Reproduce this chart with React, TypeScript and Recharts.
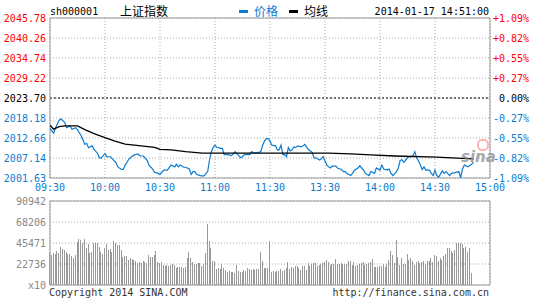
import React from "react";
import {
  Bar,
  BarChart,
  CartesianGrid,
  Line,
  LineChart,
  ReferenceLine,
  XAxis,
  YAxis,
} from "recharts";

const MONO = "'DejaVu Sans Mono', monospace";
const CJK = "'Noto Sans CJK SC', sans-serif";
const RED = "#ff0000";
const BLUE = "#0a7bd0";
const GRID = "#aaa";
const FRAME = "#999";

const PREV_CLOSE = 2023.7;
const priceTicks = [2001.63, 2007.14, 2012.66, 2018.18, 2023.7, 2029.22, 2034.74, 2040.26, 2045.78];
const timeTicks = [0, 30, 60, 90, 120, 150, 180, 210, 240];
const timeLabels = ["09:30", "10:00", "10:30", "11:00", "11:30", "13:30", "14:00", "14:30", "15:00"];
const volumeTicks = [0, 22736, 45471, 68206, 90942];

// minute index from 09:30 (afternoon continues at 120 = 13:00)
const priceMinutes = [
  0, 2, 3, 5, 6, 8, 9, 11, 12, 14, 15, 17, 18, 19, 20, 21, 23, 24, 26, 27, 28, 30, 31, 33, 34, 36, 37, 39, 40, 41,
  43, 44, 46, 48, 49, 51, 53, 54, 56, 57, 59, 60, 62, 64, 65, 66, 68, 69, 70, 71, 73, 74, 76, 77, 78, 79, 80, 82, 83, 84,
  86, 87, 88, 89, 90, 91, 93, 94, 95, 97, 99, 100, 101, 103, 104, 105, 106, 109, 110, 111, 113, 115, 116, 117, 118, 119, 120, 121, 123, 124,
  125, 126, 127, 128, 129, 130, 131, 132, 133, 134, 135, 137, 138, 139, 141, 142, 143, 144, 145, 147, 148, 149, 150, 151, 152, 153, 154, 156, 157, 159,
  160, 161, 162, 164, 165, 166, 168, 169, 171, 172, 174, 175, 177, 178, 180, 181, 182, 184, 185, 186, 187, 189, 190, 191, 192, 193, 194, 195, 196, 197,
  198, 199, 200, 201, 202, 203, 204, 205, 207, 208, 209, 210, 211, 212, 214, 215, 216, 218, 219, 221, 223, 224, 225, 226, 228, 230, 231,
];
const priceValues = [
  2015.3, 2014.0, 2015.4, 2017.6, 2017.9, 2017.0, 2015.5, 2016.0, 2015.1, 2015.5, 2014.9, 2013.3, 2012.1, 2010.9, 2011.2, 2010.0, 2010.5, 2009.5, 2008.4, 2007.2, 2007.2, 2008.4, 2007.5, 2007.5, 2006.9, 2005.9, 2004.7, 2004.0, 2004.0, 2005.2,
  2006.8, 2007.3, 2008.0, 2008.3, 2007.7, 2007.7, 2006.5, 2005.2, 2004.1, 2003.2, 2002.9, 2002.6, 2003.8, 2003.8, 2004.5, 2005.2, 2004.7, 2005.4, 2004.7, 2005.2, 2004.6, 2004.6, 2004.1, 2002.6, 2003.4, 2003.4, 2002.6, 2002.3, 2002.2, 2002.2,
  2003.4, 2006.6, 2008.9, 2010.1, 2010.7, 2010.1, 2009.8, 2009.8, 2008.1, 2008.1, 2007.8, 2008.3, 2008.9, 2007.8, 2007.2, 2007.5, 2008.1, 2008.1, 2008.9, 2008.6, 2008.6, 2008.9, 2010.7, 2011.8, 2012.5, 2012.5, 2011.8, 2010.7, 2010.5, 2009.4,
  2009.4, 2010.7, 2008.1, 2008.1, 2007.5, 2010.0, 2009.1, 2009.4, 2010.2, 2010.0, 2010.5, 2010.2, 2010.5, 2010.9, 2009.5, 2009.1, 2008.7, 2007.2, 2007.2, 2006.6, 2006.9, 2007.5, 2006.3, 2005.2, 2004.7, 2004.4, 2004.9, 2004.9, 2004.3, 2004.0,
  2003.4, 2003.4, 2002.9, 2002.3, 2002.9, 2003.8, 2004.4, 2005.0, 2003.8, 2002.9, 2002.3, 2003.4, 2002.9, 2004.4, 2003.8, 2005.2, 2004.1, 2003.8, 2004.1, 2002.9, 2002.3, 2003.4, 2004.4, 2006.5, 2006.7, 2005.9, 2006.6, 2007.2, 2007.5, 2007.5,
  2007.8, 2008.9, 2007.2, 2006.3, 2005.2, 2004.0, 2004.7, 2003.8, 2003.8, 2002.9, 2002.3, 2003.8, 2002.3, 2001.9, 2003.6, 2002.9, 2003.4, 2002.3, 2002.9, 2003.1, 2003.4, 2001.7, 2004.1, 2005.2, 2004.7, 2005.4, 2006.0,
];

const avgMinutes = [0, 2, 5, 8, 15, 19, 24, 30, 35, 41, 46, 57, 60, 66, 74, 83, 152, 164, 175, 188, 211, 222, 231];
const avgValues = [
  2016.2, 2015.1, 2015.8, 2016.0, 2016.0, 2015.0, 2013.9, 2012.8, 2011.9, 2011.0, 2010.7, 2010.1, 2009.5, 2009.4, 2008.9, 2008.5,
  2008.5, 2008.3, 2008.0, 2007.7, 2007.4, 2007.1, 2006.9,
];

// one bar per minute (axis unit x10)
const volumes = [
  35000, 32500, 34300, 33600, 37200, 35000, 40800, 39000, 37900, 36100,
  33200, 33200, 31400, 29600, 32500, 46200, 49800, 48700, 45800, 49800,
  39700, 44000, 34300, 36100, 45100, 45100, 45100, 41500, 36100, 33200,
  39700, 44000, 37900, 38600, 36100, 47600, 45800, 43300, 43300, 37900,
  30700, 31800, 31400, 27100, 29600, 27800, 27100, 26300, 24200, 25300,
  24200, 26300, 25300, 23500, 32500, 30700, 30700, 32500, 36800, 25300,
  24200, 25300, 21700, 20600, 21700, 20600, 21700, 22400, 21700, 18800,
  19800, 19100, 19800, 18800, 19800, 28900, 35400, 28900,
  25300, 22400, 22400, 23500, 23500, 20900, 22400, 34300, 65700, 47600,
  40400, 26000, 26000, 17300, 18000, 17300, 22400, 18800, 16200, 14400,
  15200, 14400, 13700, 12600, 21700, 15200, 13700, 13700, 16200, 15200,
  18000, 17300, 16200, 17000, 16200, 17000, 17300, 35400, 26000, 18800, 18800,
  18800, 47600,
  14400, 15200, 14400, 15200, 15200, 17300, 15200, 16200, 18800, 25300,
  17300, 19800, 18000, 20900, 20600, 18800, 16200, 20900, 20600, 16200,
  23500, 20900, 22400, 23500, 23500, 20900, 21700, 22400, 23500, 25300,
  27100, 25300, 21700, 22700, 22400, 28100,
  22400, 22400, 24200, 22400, 22400, 22700, 26000, 26000, 21700, 25300,
  20600, 21700, 22400, 23500, 25300, 21700, 22700, 23500, 25300, 28100,
  19800, 19800, 19800, 20600, 20900, 22400, 19800, 22700, 27100, 36800,
  32500, 23500, 48700, 30700, 21700, 28900, 22400, 22400, 33200, 27100,
  28900, 26000, 21700, 25300, 26000, 24200, 25300, 26000, 22400, 26000,
  26000, 28900, 25300, 32500, 31400, 26000, 28900, 27100, 31400, 33200,
  40400, 39700, 36800, 34300, 37900, 45100, 45100, 45100, 44000, 39700,
  41500, 36100, 40400, 13400,
];

const priceData = priceMinutes.map((m, i) => ({ m, v: priceValues[i] }));
const avgData = avgMinutes.map((m, i) => ({ m, v: avgValues[i] }));
const volumeData = volumes.map((vol, m) => ({ m, vol }));

const colorFor = (v: number) =>
  v > PREV_CLOSE + 0.001 ? RED : v < PREV_CLOSE - 0.001 ? BLUE : "#000";

function PriceTick(props: any) {
  const { x, y, payload } = props;
  return (
    <text x={x} y={y} dy="0.355em" textAnchor="end" fill={colorFor(payload.value)} fontSize={10} fontFamily={MONO}>
      {payload.value.toFixed(2)}
    </text>
  );
}

function PctTick(props: any) {
  const { x, y, payload } = props;
  const p = ((payload.value - PREV_CLOSE) / PREV_CLOSE) * 100;
  const label = (p > 0.001 ? "+" : "") + (Math.abs(p) < 0.001 ? "0.00" : p.toFixed(2)) + "%";
  return (
    <text x={x + 37} y={y} dy="0.355em" textAnchor="end" fill={colorFor(payload.value)} fontSize={10} fontFamily={MONO}>
      {label}
    </text>
  );
}

// 1px crisp volume bar
function VolBar(props: any) {
  const { x, y, width, height, fill } = props;
  if (!height || height <= 0) return null;
  return (
    <rect
      x={Math.round(x + width / 2 - 0.5)}
      y={Math.round(y)}
      width={1}
      height={Math.round(y + height) - Math.round(y)}
      fill={fill}
      shapeRendering="crispEdges"
    />
  );
}

function Frame({ top, bottom }: { top: number; bottom: number }) {
  return (
    <>
      <ReferenceLine x={0} stroke={FRAME} />
      <ReferenceLine x={240} stroke={FRAME} />
      <ReferenceLine y={top} stroke={FRAME} />
      <ReferenceLine y={bottom} stroke={FRAME} />
    </>
  );
}

const abs = (left: number, top: number, extra: React.CSSProperties = {}): React.CSSProperties => ({
  position: "absolute",
  left,
  top,
  lineHeight: "14px",
  whiteSpace: "nowrap",
  ...extra,
});

export default function App() {
  return (
    <div style={{ position: "absolute", left: 0, top: 0, width: 545, height: 300, background: "#fff" }}>
      <span style={abs(50, 5, { fontFamily: MONO, fontSize: 10 })}>sh000001</span>
      <span style={abs(120, 4, { fontFamily: CJK, fontSize: 12 })}>上证指数</span>
      <span style={abs(239, 10, { width: 9, height: 3, background: BLUE })} />
      <span style={abs(254, 4, { fontFamily: CJK, fontSize: 12, color: BLUE })}>价格</span>
      <span style={abs(289, 10, { width: 9, height: 3, background: "#000" })} />
      <span style={abs(304, 4, { fontFamily: CJK, fontSize: 12 })}>均线</span>
      <span style={abs(369, 5, { fontFamily: MONO, fontSize: 10, width: 120, textAlign: "right" })}>
        2014-01-17 14:51:00
      </span>

      <div style={{ position: "absolute", left: 0, top: 0 }}>
        <LineChart width={545} height={195} margin={{ top: 18, right: 0, bottom: 0, left: 0 }}>
          <CartesianGrid stroke={GRID} strokeDasharray="1 2" />
          <XAxis
            type="number"
            dataKey="m"
            domain={[0, 240]}
            ticks={timeTicks}
            interval={0}
            tickFormatter={(v: number) => timeLabels[timeTicks.indexOf(v)]}
            tick={{ fontSize: 10, fontFamily: MONO, fill: BLUE }}
            axisLine={false}
            tickLine={false}
            tickSize={0}
            tickMargin={6}
            height={17}
            allowDataOverflow
          />
          <YAxis
            type="number"
            domain={[2001.63, 2045.78]}
            ticks={priceTicks}
            interval={0}
            width={50}
            tick={<PriceTick />}
            axisLine={false}
            tickLine={false}
            tickSize={0}
            tickMargin={4}
            allowDataOverflow
          />
          <YAxis
            yAxisId="pct"
            orientation="right"
            type="number"
            domain={[2001.63, 2045.78]}
            ticks={priceTicks}
            interval={0}
            width={55}
            tick={<PctTick />}
            axisLine={false}
            tickLine={false}
            tickSize={0}
            tickMargin={2}
            allowDataOverflow
          />
          <ReferenceLine y={PREV_CLOSE} stroke="#000" strokeDasharray="2 2" />
          {Frame({ top: 2045.78, bottom: 2001.63 })}
          <Line
            data={priceData}
            dataKey="v"
            type="linear"
            stroke={BLUE}
            strokeWidth={1.2}
            dot={false}
            activeDot={false}
            isAnimationActive={false}
          />
          <Line
            data={avgData}
            dataKey="v"
            type="linear"
            stroke="#000"
            strokeWidth={1.3}
            dot={false}
            activeDot={false}
            isAnimationActive={false}
          />
        </LineChart>
      </div>

      <span
        style={abs(461, 150, {
          fontFamily: "'DejaVu Sans', sans-serif",
          fontSize: 15,
          fontWeight: "bold",
          fontStyle: "italic",
          color: "rgba(140,140,140,0.75)",
        })}
      >
        sina
      </span>
      <span
        style={abs(477, 139, {
          width: 8,
          height: 8,
          borderRadius: 5,
          border: "2px solid rgba(255,120,120,0.55)",
        })}
      />

      <div style={{ position: "absolute", left: 0, top: 195 }}>
        <BarChart width={545} height={104} data={volumeData} margin={{ top: 6, right: 55, bottom: 0, left: 0 }}>
          <CartesianGrid stroke={GRID} strokeDasharray="1 2" />
          <XAxis
            type="number"
            dataKey="m"
            domain={[0, 240]}
            ticks={timeTicks}
            interval={0}
            tick={false}
            axisLine={false}
            tickLine={false}
            height={14}
          />
          <YAxis
            type="number"
            domain={[0, 90942]}
            ticks={volumeTicks}
            interval={0}
            width={50}
            tick={{ fontSize: 10, fontFamily: MONO, fill: "#888" }}
            tickFormatter={(v: number) => (v === 0 ? "x10" : String(v))}
            axisLine={false}
            tickLine={false}
            tickSize={0}
            tickMargin={4}
          />
          <Bar dataKey="vol" fill="#999" barSize={1} shape={<VolBar />} isAnimationActive={false} />
          {Frame({ top: 90942, bottom: 0 })}
        </BarChart>
      </div>

      <span style={abs(49, 286, { fontFamily: MONO, fontSize: 10, color: "#333" })}>Copyright 2014 SINA.COM</span>
      <span style={abs(329, 286, { fontFamily: MONO, fontSize: 10, color: "#333", width: 160, textAlign: "right" })}>
        http://finance.sina.com.cn
      </span>
    </div>
  );
}
